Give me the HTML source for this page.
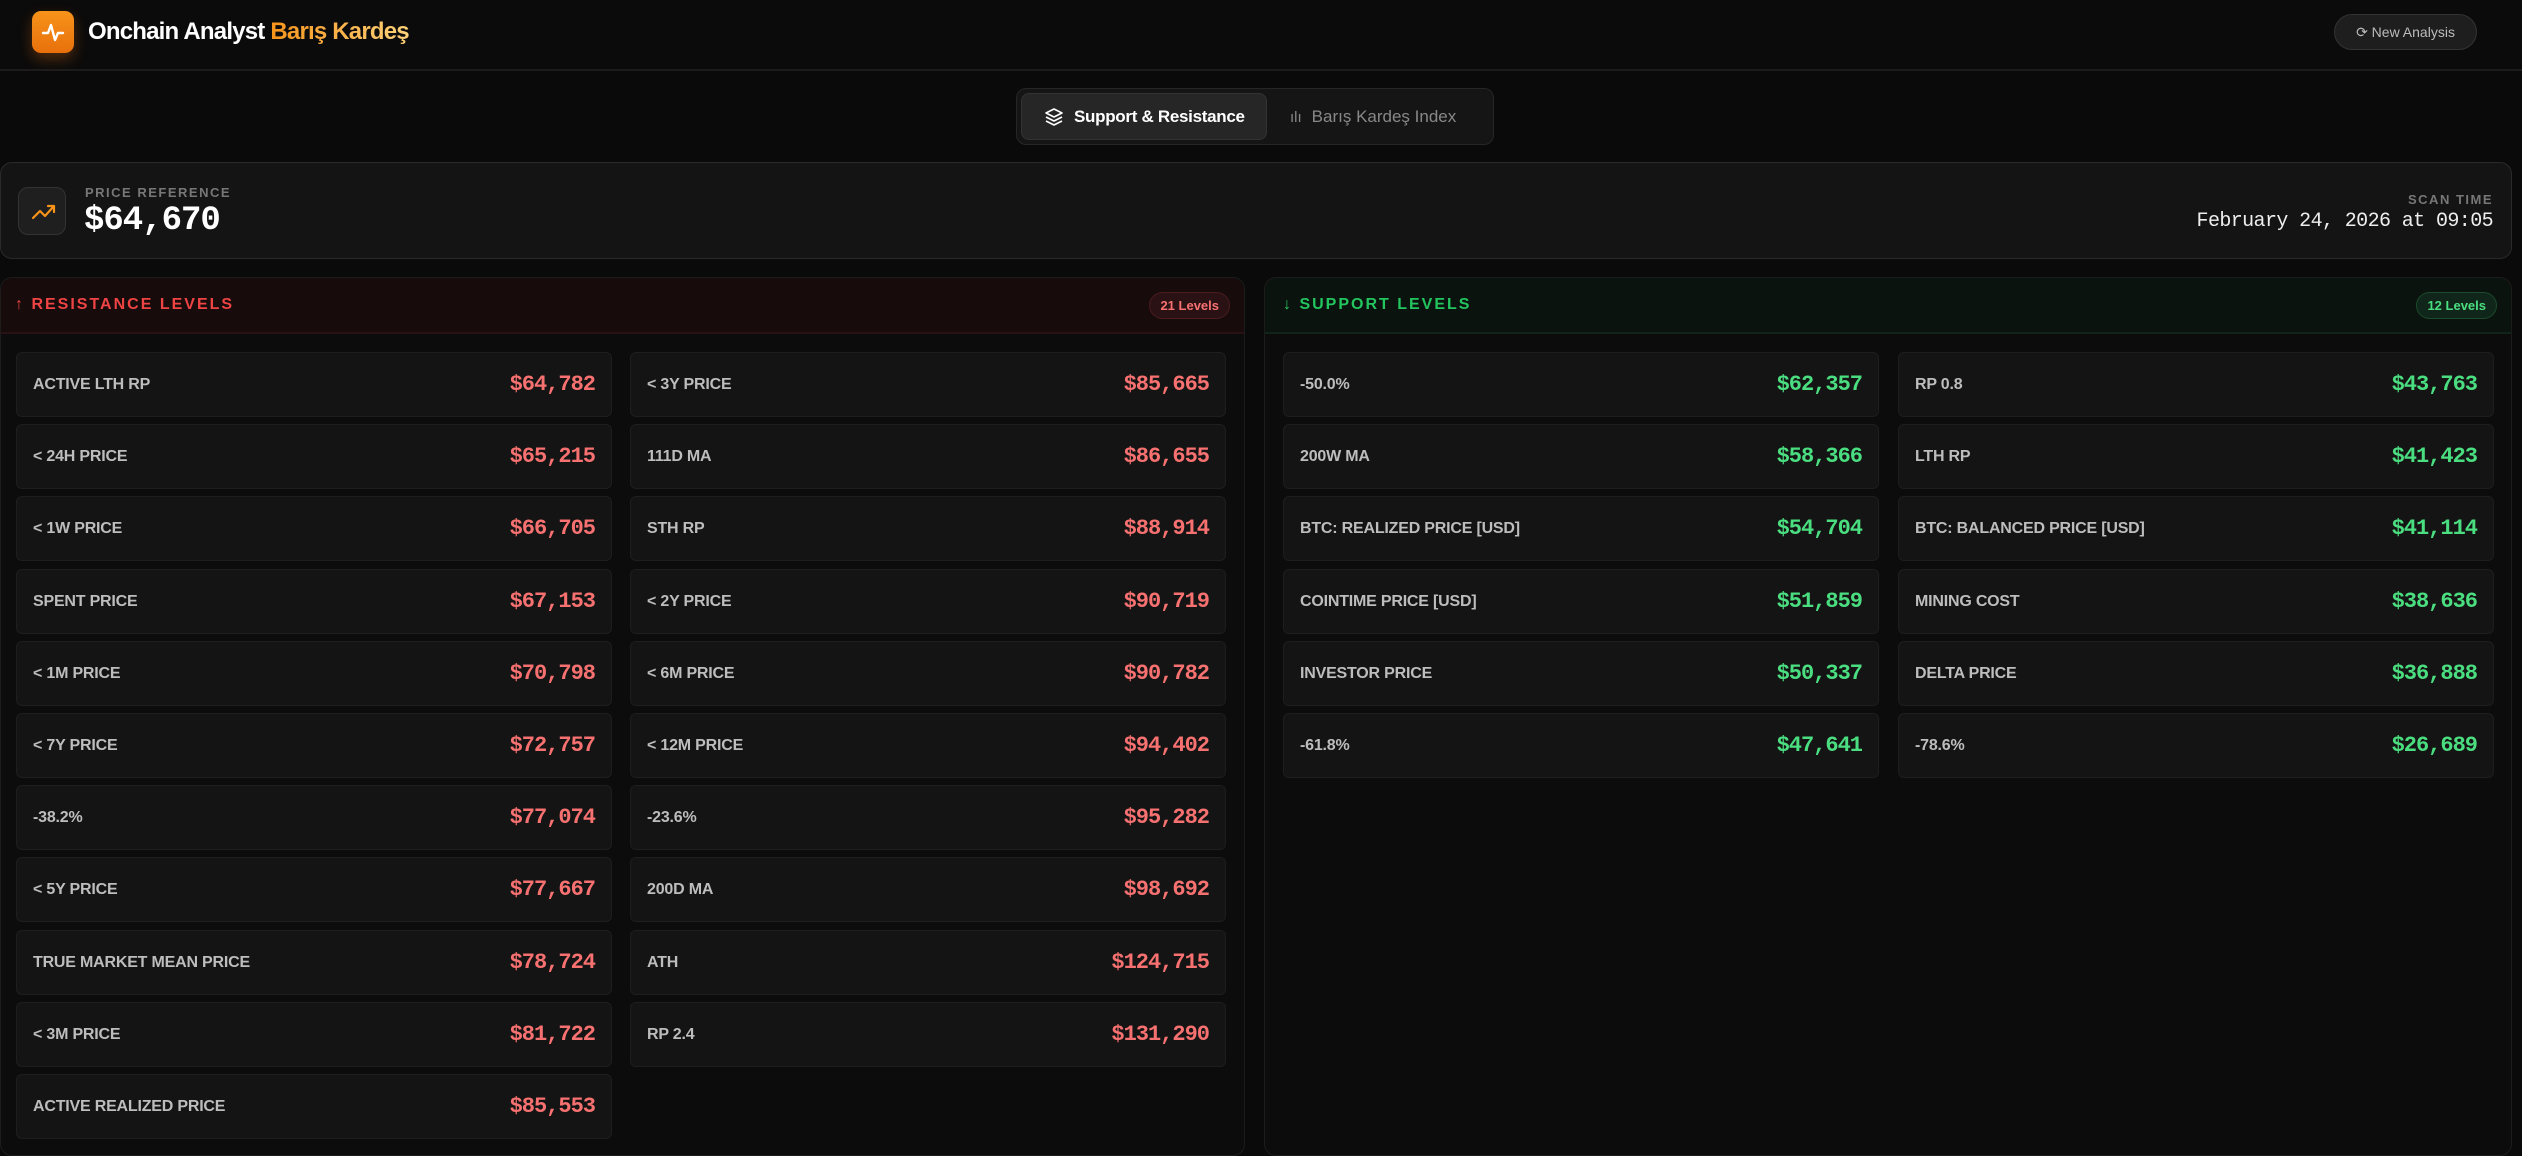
<!DOCTYPE html>
<html><head><meta charset="utf-8"><style>
*{box-sizing:border-box;margin:0;padding:0}
body{width:2522px;height:1156px;background:#0a0a0a;font-family:"Liberation Sans",sans-serif;color:#fff;position:relative;overflow:hidden}
.abs{position:absolute}
.hdr{left:0;top:0;width:2522px;height:71px;border-bottom:2px solid #1c1c1c;background:#0b0b0b}
.logo{left:32px;top:11px;width:42px;height:42px;border-radius:9px;background:linear-gradient(#f7931a,#e8700c);box-shadow:0 6px 14px rgba(247,120,20,.3)}
.title{left:88px;top:18px;font-size:24px;font-weight:bold;letter-spacing:-0.8px}
.btn{left:2334px;top:14px;width:143px;height:36px;border-radius:18px;background:#1e1e1e;border:1px solid #333;color:#bbb;font-size:14px;line-height:34px;text-align:center}
.tabs{left:1016px;top:88px;width:478px;height:57px;border-radius:10px;background:#151515;border:1px solid #262626}
.tab1{left:1021px;top:93px;width:246px;height:47px;border-radius:8px;background:#262626;border:1px solid #333;font-size:17px;font-weight:bold;line-height:45px;padding-left:52px;letter-spacing:-0.3px}
.tab2{left:1290px;top:93px;font-size:17px;line-height:47px;color:#888}
.pcard{left:0;top:162px;width:2512px;height:97px;border-radius:12px;background:#141414;border:1px solid #2a2a2a}
.picon{left:18px;top:187px;width:48px;height:48px;border-radius:10px;background:#1f1f1f;border:1px solid #333}
.lbl{font-size:13px;font-weight:bold;color:#777;letter-spacing:1.5px}
.mono{font-family:"Liberation Mono","DejaVu Sans Mono",monospace}
.panel{top:277px;height:879px;border-radius:12px;border:1px solid #1c1c1c;background:#0c0c0c}
.ph{position:absolute;left:0;top:0;right:0;height:56px;border-bottom:2px solid}
.pt{position:absolute;left:18px;top:18px;font-size:16px;font-weight:bold;letter-spacing:2px}
.badge{position:absolute;right:14px;top:14px;height:27px;border-radius:14px;font-size:13px;font-weight:bold;line-height:25px;padding:0 10px;border:1px solid}
.card{position:absolute;width:596px;height:65px;border-radius:6px;background:#141414;border:1px solid #1e1e1e}
.card .n{position:absolute;left:16px;top:23px;font-size:16px;font-weight:bold;color:#bdbdbd;letter-spacing:-0.2px}
.card .v{position:absolute;right:16px;top:19px;font-size:22px;font-weight:bold;font-family:"Liberation Mono","DejaVu Sans Mono",monospace;letter-spacing:-1px}
.r .v{color:#f87171}.g .v{color:#4ade80}
</style></head><body>
<div class="abs hdr"></div>
<div class="abs logo"><svg width="42" height="42" viewBox="0 0 42 42"><path d="M11 22h5l3-8 4 15 3-7h5" stroke="#fff" stroke-width="2.4" fill="none" stroke-linejoin="round" stroke-linecap="round"/></svg></div>
<div class="abs title">Onchain Analyst <span style="background:linear-gradient(90deg,#f7931a,#fcd27a);-webkit-background-clip:text;color:transparent">Barış Kardeş</span></div>
<div class="abs btn">⟳ New Analysis</div>
<div class="abs tabs"></div>
<div class="abs tab1"><svg class="abs" style="left:22px;top:13px" width="20" height="20" viewBox="0 0 20 20"><path d="M10 2l8 4-8 4-8-4z M2 10l8 4 8-4 M2 14l8 4 8-4" stroke="#fff" stroke-width="1.6" fill="none" stroke-linejoin="round"/></svg>Support &amp; Resistance</div>
<div class="abs tab2"><span style="font-size:15px;margin-right:10px">ılı</span>Barış Kardeş Index</div>
<div class="abs pcard"></div>
<div class="abs picon"><svg width="48" height="48" viewBox="0 0 48 48"><path d="M14 30l7-7 5 5 9-10 M29 18h6v6" stroke="#f7931a" stroke-width="2.2" fill="none" stroke-linejoin="round" stroke-linecap="round"/></svg></div>
<div class="abs lbl" style="left:85px;top:185px">PRICE REFERENCE</div>
<div class="abs mono" style="left:84px;top:202px;font-size:34px;font-weight:bold;letter-spacing:-1px">$64,670</div>
<div class="abs lbl" style="right:29px;top:192px">SCAN TIME</div>
<div class="abs mono" style="right:29px;top:210px;font-size:20px;color:#eee;letter-spacing:-0.6px">February 24, 2026 at 09:05</div>

<div class="abs panel" style="left:0;width:1245px">
<div class="ph" style="background:#170b0c;border-color:#2a1214;border-radius:12px 12px 0 0"><div class="pt" style="color:#ef4444;left:14px">↑ RESISTANCE LEVELS</div><div class="badge" style="color:#f87171;background:#2a1214;border-color:#4a1c1e">21 Levels</div></div>
</div>
<div class="abs panel" style="left:1264px;width:1248px">
<div class="ph" style="background:#0b130e;border-color:#12241a;border-radius:12px 12px 0 0"><div class="pt" style="color:#22c55e">↓ SUPPORT LEVELS</div><div class="badge" style="color:#4ade80;background:#11261a;border-color:#1c4a2c">12 Levels</div></div>
</div>

<div id="cards"></div>
<script>
const R1=[["ACTIVE LTH RP","$64,782"],["< 24H PRICE","$65,215"],["< 1W PRICE","$66,705"],["SPENT PRICE","$67,153"],["< 1M PRICE","$70,798"],["< 7Y PRICE","$72,757"],["-38.2%","$77,074"],["< 5Y PRICE","$77,667"],["TRUE MARKET MEAN PRICE","$78,724"],["< 3M PRICE","$81,722"],["ACTIVE REALIZED PRICE","$85,553"]];
const R2=[["< 3Y PRICE","$85,665"],["111D MA","$86,655"],["STH RP","$88,914"],["< 2Y PRICE","$90,719"],["< 6M PRICE","$90,782"],["< 12M PRICE","$94,402"],["-23.6%","$95,282"],["200D MA","$98,692"],["ATH","$124,715"],["RP 2.4","$131,290"]];
const S1=[["-50.0%","$62,357"],["200W MA","$58,366"],["BTC: REALIZED PRICE [USD]","$54,704"],["COINTIME PRICE [USD]","$51,859"],["INVESTOR PRICE","$50,337"],["-61.8%","$47,641"]];
const S2=[["RP 0.8","$43,763"],["LTH RP","$41,423"],["BTC: BALANCED PRICE [USD]","$41,114"],["MINING COST","$38,636"],["DELTA PRICE","$36,888"],["-78.6%","$26,689"]];
let h="";
function add(a,x,c){a.forEach((d,i)=>{h+=`<div class="card ${c}" style="left:${x}px;top:${352+i*72.2}px"><div class="n">${d[0].replace(/</g,"&lt;")}</div><div class="v">${d[1]}</div></div>`})}
add(R1,16,"r");add(R2,630,"r");add(S1,1283,"g");add(S2,1898,"g");
document.getElementById("cards").innerHTML=h;
</script>
</body></html>
